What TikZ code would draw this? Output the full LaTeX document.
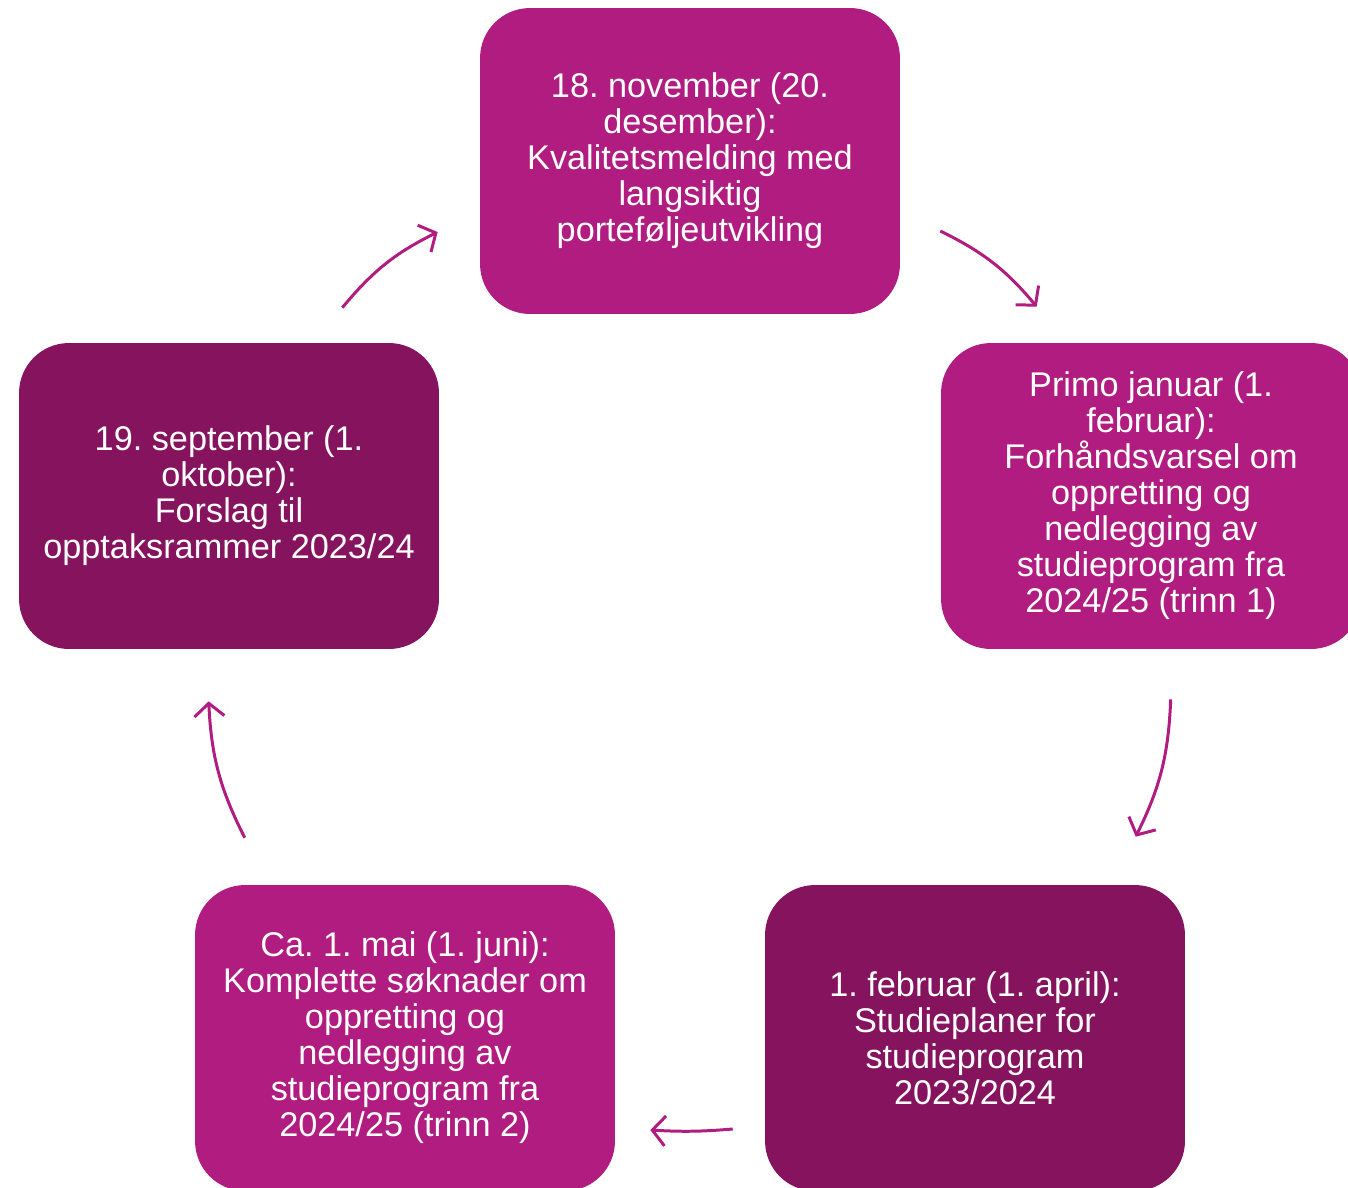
\documentclass[tikz,border=0pt]{standalone}
\usepackage{fontspec}
\setmainfont{Liberation Sans}
\frenchspacing
\usetikzlibrary{arrows.meta}
\definecolor{lysrosa}{HTML}{B01C7F}
\definecolor{morkrosa}{HTML}{85135E}
\tikzset{
    fase/.style={rounded corners=1.0cm, minimum width=8.4cm, minimum height=6.12cm,
        text=white, align=center, inner sep=0pt,
        font=\fontsize{19.5pt}{20.5pt}\selectfont},
    pil/.style={draw=lysrosa, line width=1.7pt, -{Straight Barb[length=2.6mm,width=6mm]}}
}
\begin{document}
\begin{tikzpicture}[x=0.02cm,y=-0.02cm]
    \useasboundingbox (0,0) rectangle (1348,1187);

    \node [fase, fill=lysrosa] (nov) at (690,161) {18. november (20.\\desember):\\Kvalitetsmelding med\\langsiktig\\porteføljeutvikling};
    \node [fase, fill=lysrosa] (jan) at (1151,496) {Primo januar (1.\\februar):\\Forhåndsvarsel om\\oppretting og\\nedlegging av\\studieprogram fra\\2024/25 (trinn 1)};
    \node [fase, fill=morkrosa] (feb) at (975,1038) {1. februar (1. april):\\Studieplaner for\\studieprogram\\2023/2024};
    \node [fase, fill=lysrosa] (mai) at (405,1038) {Ca. 1. mai (1. juni):\\Komplette søknader om\\oppretting og\\nedlegging av\\studieprogram fra\\2024/25 (trinn 2)};
    \node [fase, fill=morkrosa] (sep) at (229,496) {19. september (1.\\oktober):\\Forslag til\\opptaksrammer 2023/24};

    % piler mellom fasene
    \coordinate (nov-ut) at ([shift={(40,70)}]nov.east);
    \coordinate (jan-inn) at ([shift={(96,-36)}]jan.north west);
    \coordinate (jan-ut) at ([shift={(230,50)}]jan.south west);
    \coordinate (feb-inn) at ([shift={(371,-48)}]feb.north west);
    \coordinate (feb-ut) at ([shift={(-32,91)}]feb.west);
    \coordinate (mai-inn) at ([shift={(35,92)}]mai.east);
    \coordinate (mai-ut) at ([shift={(50,-47)}]mai.north west);
    \coordinate (sep-inn) at ([shift={(190,52)}]sep.south west);
    \coordinate (sep-ut) at ([shift={(-97,-35)}]sep.north east);
    \coordinate (nov-inn) at ([shift={(-42,71)}]nov.west);

    \draw [pil] (nov-ut) to [bend left=12] (jan-inn);
    \draw [pil] (jan-ut) to [bend left=12] (feb-inn);
    \draw [pil] (feb-ut) to [bend left=4] (mai-inn);
    \draw [pil] (mai-ut) to [bend left=12] (sep-inn);
    \draw [pil] (sep-ut) to [bend left=12] (nov-inn);
\end{tikzpicture}
\end{document}
